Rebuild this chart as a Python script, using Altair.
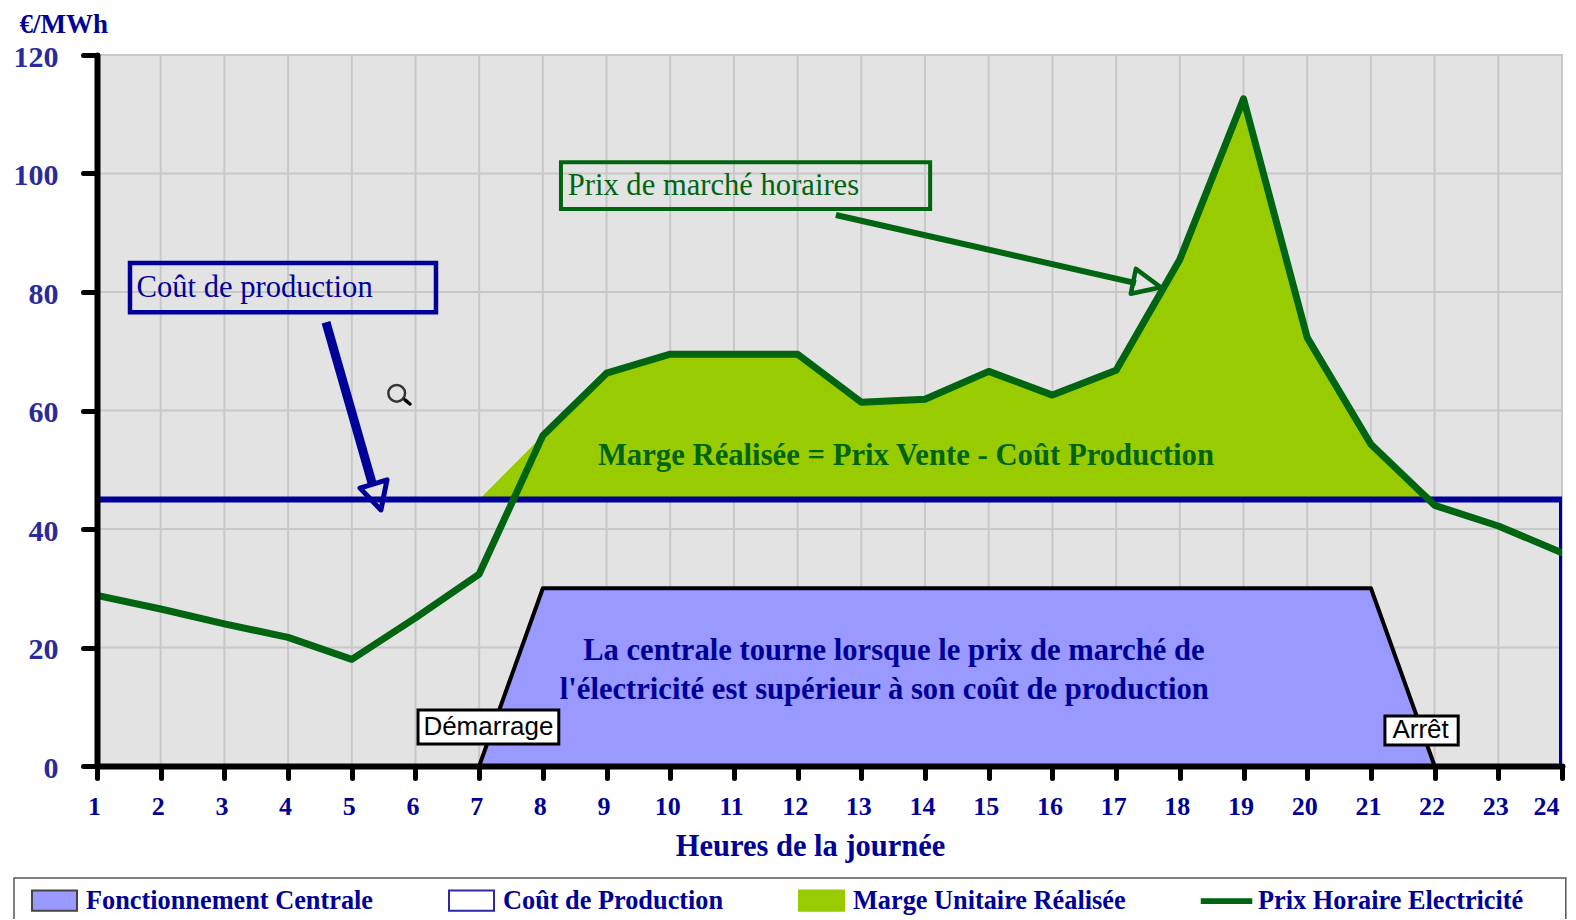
import altair as alt
import pandas as pd

hours = list(range(1, 25))
price = [28.8, 26.5, 24.0, 21.7, 18.0, 25.0, 32.4, 55.8, 66.3, 69.5, 69.5, 69.5,
         61.4, 61.9, 66.6, 62.6, 66.8, 85.5, 112.6, 72.3, 54.3, 44.0, 40.5, 36.0]
y_ticks = [0, 20, 40, 60, 80, 100, 120]
cost_level = 45

run_hours = [7, 8, 21, 22]
run_values = [0, 30, 30, 0]
margin_hours = list(range(7, 23))
margin_top = [45, 55.8, 66.3, 69.5, 69.5, 69.5, 61.4, 61.9, 66.6, 62.6, 66.8, 85.5, 112.6, 72.3, 54.3, 45]

series = ["Fonctionnement Centrale", "Coût de Production", "Marge Unitaire Réalisée", "Prix Horaire Electricité"]
series_fill = ["#9999FF", "#FFFFFF", "#99CC00", "#006411"]
series_stroke = ["#444444", "#2A2AA8", "#99CC00", "#006411"]
RECT = "M-1,-0.45L1,-0.45L1,0.45L-1,0.45Z"
BAR = "M-1.1,-0.08L1.1,-0.08L1.1,0.08L-1.1,0.08Z"
series_shape = [RECT, RECT, RECT, BAR]

NAVY = "#000099"
GREEN = "#006411"
SERIF = "Liberation Serif"
SANS = "Liberation Sans"

xs = alt.Scale(domain=[1, 24], nice=False, zero=False)
ys = alt.Scale(domain=[0, 120], nice=False)
X = alt.X("h:Q", scale=xs, title="Heures de la journée",
          axis=alt.Axis(values=hours, format="d", grid=False, zindex=1, domainColor="black", domainWidth=6,
                        domainCap="round", tickColor="black", tickWidth=5, tickSize=12, tickCap="round",
                        labelColor=NAVY, labelFont=SERIF, labelFontSize=26, labelFontWeight="bold",
                        labelPadding=15, labelOffset=-3, labelFlush=False, labelOverlap=False,
                        labelAlign=alt.expr("datum.value == 24 ? 'right' : 'center'"),
                        titleColor=NAVY, titleFont=SERIF, titleFontSize=30.5, titleFontWeight="bold",
                        titleX=713, titleY=80, titleAlign="center", titleBaseline="middle"))
Y = alt.Y("v:Q", scale=ys, title="€/MWh",
          axis=alt.Axis(values=y_ticks, grid=False, zindex=1, domainColor="black", domainWidth=6,
                        domainCap="round", tickColor="black", tickWidth=5, tickSize=14, tickCap="round",
                        labelColor="#2A2A9C", labelFont=SERIF, labelFontSize=30, labelFontWeight="bold",
                        labelPadding=25, labelOffset=2, labelFlush=False, labelOverlap=False,
                        titleColor=NAVY, titleFont=SERIF, titleFontSize=27, titleFontWeight="bold",
                        titleAngle=0, titleX=-78, titleY=-23, titleAlign="left", titleBaseline="alphabetic"))


def line(hs, vs, color, w, clip=False, join="round", cap="round"):
    df = pd.DataFrame({"h": hs, "v": vs, "o": range(len(hs))})
    return alt.Chart(df).mark_line(color=color, strokeWidth=w, clip=clip, strokeJoin=join, strokeCap=cap).encode(
        x=X, y=Y, order="o:Q")


def box(h1, h2, v1, v2, stroke, w, fill=None):
    df = pd.DataFrame({"h": [h1], "h2": [h2], "v": [v1], "v2": [v2]})
    kw = {"fill": fill} if fill else {"fillOpacity": 0, "fill": "#ffffff"}
    return alt.Chart(df).mark_rect(stroke=stroke, strokeWidth=w, **kw).encode(
        x=X, x2="h2:Q", y=Y, y2="v2:Q")


def label(h, v, s, color, size, font=SERIF, weight="normal", align="center"):
    df = pd.DataFrame({"h": [h], "v": [v], "s": [s]})
    return alt.Chart(df).mark_text(color=color, fontSize=size, font=font, fontWeight=weight,
                                   align=align, baseline="middle").encode(x=X, y=Y, text="s:N")


# hidden carrier of the legend, drawn beneath the first area
LEG = alt.Legend(title=None, orient="none", legendX=-66, legendY=822, columns=4,
                 columnPadding=71, symbolSize=2025, symbolStrokeWidth=2, symbolOpacity=1,
                 labelColor=NAVY, labelFont=SERIF, labelFontSize=26.3, labelFontWeight="bold",
                 labelOffset=8, labelLimit=400, padding=0)
legend_df = pd.DataFrame({"h": [12] * 4, "v": [10] * 4, "series": series})
legend_layer = alt.Chart(legend_df).mark_point(filled=True, size=1).encode(
    x=X, y=Y,
    fill=alt.Fill("series:N", scale=alt.Scale(domain=series, range=series_fill), legend=LEG),
    stroke=alt.Stroke("series:N", scale=alt.Scale(domain=series, range=series_stroke), legend=LEG),
    shape=alt.Shape("series:N", scale=alt.Scale(domain=series, range=series_shape), legend=LEG),
)

grid_x = alt.Chart(pd.DataFrame({"h": hours})).mark_rule(color="#C8C8C8", strokeWidth=2).encode(x=X)
grid_y = alt.Chart(pd.DataFrame({"v": y_ticks})).mark_rule(color="#C8C8C8", strokeWidth=2).encode(y=Y)

run_area = alt.Chart(pd.DataFrame({"h": run_hours, "v": run_values})).mark_area(
    color="#9999FF").encode(x=X, y=Y)
run_line = line(run_hours, run_values, "black", 4)

margin_area = alt.Chart(pd.DataFrame({"h": margin_hours, "v": margin_top, "v2": [cost_level] * len(margin_hours)})).mark_area(
    color="#99CC00").encode(x=X, y=Y, y2="v2:Q")

cost_line = line([1, 24, 24], [cost_level, cost_level, 0], NAVY, 6, clip=True, join="miter", cap="butt")
price_line = line(hours, price, GREEN, 7, clip=True)

layers = [
    legend_layer, grid_x, grid_y, run_area, run_line, margin_area, cost_line, price_line,
    # annotation boxes and arrows
    box(1.518, 6.322, 76.6, 84.9, NAVY, 4.5),
    label(1.62, 80.6, "Coût de production", NAVY, 30.6, align="left"),
    box(8.284, 14.08, 94.0, 101.9, GREEN, 4),
    label(8.39, 97.9, "Prix de marché horaires", GREEN, 30.6, align="left"),
    line([4.595, 5.317], [74.9, 47.8], NAVY, 9, cap="butt"),
    line([5.129, 5.553, 5.458, 5.129], [46.9, 48.3, 43.2, 46.9], NAVY, 5),
    line([12.60, 17.31], [93.0, 81.5], GREEN, 6, cap="butt"),
    line([17.31, 17.70, 17.23, 17.31], [83.9, 80.8, 79.7, 83.9], GREEN, 4.5),
    label(13.70, 52.3, "Marge Réalisée = Prix Vente - Coût Production", GREEN, 30.7, weight="bold"),
    label(13.51, 19.45, "La centrale tourne lorsque le prix de marché de", NAVY, 30.6, weight="bold"),
    label(13.36, 12.85, "l'électricité est supérieur à son coût de production", NAVY, 30.6, weight="bold"),
    box(6.04, 8.25, 3.71, 9.45, "black", 3, fill="#FFFFFF"),
    label(7.145, 6.6, "Démarrage", "black", 26, font=SANS),
    box(21.22, 22.37, 3.54, 8.44, "black", 3, fill="#FFFFFF"),
    label(21.78, 6.0, "Arrêt", "black", 26, font=SANS),
    # magnifier cursor
    alt.Chart(pd.DataFrame({"h": [5.705], "v": [62.9]})).mark_point(
        shape="circle", size=280, color="#333333", strokeWidth=2.5, opacity=1).encode(x=X, y=Y),
    line([5.835, 5.914], [61.8, 61.1], "black", 3.5),
    # legend frame
    box(-0.303, 24.06, -26.9, -18.9, "#555555", 1.5),
]

chart = alt.layer(*layers).properties(
    width=1465, height=711, background="white",
    autosize=alt.AutoSizeParams(type="none"),
    padding={"left": 89, "top": 47, "right": 6, "bottom": 153},
).configure_view(fill="#E3E3E3", stroke="#C8C8C8", strokeWidth=2)

chart.save("out.html", embed_options={"renderer": "svg", "actions": False})
